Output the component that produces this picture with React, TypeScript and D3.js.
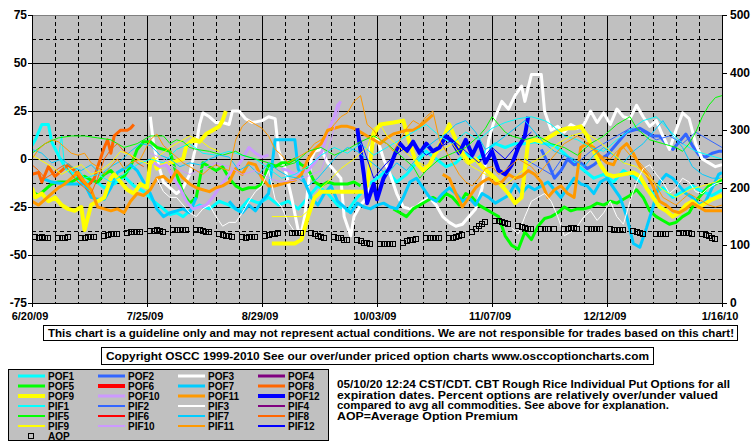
import React, { useEffect } from "react";
import * as d3 from "d3";

type Pt = [number, number] | null;

// ---------- axes / categories ----------
const START_DATE = new Date(2009, 5, 20);
const END_DATE = new Date(2010, 0, 16);
const X_TICK_DAYS = [0, 35, 70, 105, 140, 175, 210];
const LEFT_TICKS = [75, 50, 25, 0, -25, -50, -75];
const RIGHT_TICKS = [500, 400, 300, 200, 100, 0];

// ---------- series (day since 6/20/09, percent over/under) ----------
const POF1: Pt[] = [[0,7],[1,10],[2,14],[3,18],[5,18],[6,9],[8,2],[10,-4],[13,-9],[16,-13],[19,-11],[22,-15],[25,-13],[28,-9],[31,-14],[34,-17],[37,-22],[40,-26],[42,-29],[44,-28],[46,-30],[48,-27],[51,-24],[54,-26],[57,-22],[60,-24],[63,-27],[66,-21],[69,-23],[72,-20],[75,-24],[78,-22],[81,-26],[84,-20],[87,-14],[90,-18],[93,-24],[96,-27],[99,-20],[102,-14],[105,-10],[108,-6],[111,-12],[114,-8],[117,-2],[120,4],[123,0],[126,-4],[129,-2],[132,3],[135,-1],[138,4],[141,8],[144,6],[147,8],[150,8],[153,9],[156,8],[159,7],[162,3],[165,-2],[168,-6],[171,-10],[174,-8],[177,-12],[180,-6],[183,-9],[186,-13],[189,-18],[192,-15],[195,-20],[198,-17],[201,-14],[204,-17],[207,-19],[210,-16]];
const POF2: Pt[] = [[155,5],[157,-2],[159,-10],[161,-6],[163,0],[165,-3],[167,-2],[169,-5],[171,-3],[173,0],[175,2],[177,6],[179,10],[181,14],[183,15],[185,16],[187,14],[189,12],[191,12],[193,8],[195,5],[197,9],[199,13],[201,7],[203,2],[205,1],[207,3],[209,4],[210,4]];
const POF3: Pt[] = [[36,22],[37,8],[38,0],[40,-12],[42,-15],[44,-18],[46,-15],[48,-8],[50,8],[51,18],[52,24],[54,22],[56,19],[58,19],[60,18],[61,25],[63,25],[65,21],[67,19],[70,20],[72,22],[74,21],[75,5],[77,-5],[79,-20],[81,-37],[82,-38],[83,-30],[85,0],[86,4],[88,5],[90,-2],[92,-6],[94,-10],[95,-30],[97,-40],[98,-30],[100,-24],[102,-20],[103,6],[105,11],[107,0],[109,-8],[111,-18],[113,-25],[115,-26],[117,-25],[119,-22],[121,-20],[123,-24],[125,-30],[127,-33],[129,-35],[131,-34],[133,-30],[135,-26],[137,-15],[139,10],[141,22],[143,30],[145,26],[147,33],[149,38],[150,30],[152,44],[155,44],[156,25],[158,15],[160,17],[162,14],[164,18],[166,16],[168,18],[170,25],[172,19],[174,24],[176,18],[178,26],[180,22],[182,21],[184,28],[186,22],[188,17],[190,20],[192,12],[194,5],[196,15],[198,24],[200,21],[202,8],[204,0],[206,-2],[208,-4],[210,-3]];
const POF4: Pt[] = [];
const POF5: Pt[] = [[0,-17],[2,-19],[4,-16],[6,-13],[8,-12],[10,-12],[12,-12],[14,-10],[16,-9],[18,-11],[20,-12],[22,-8],[24,-6],[26,-10],[28,-9],[30,-4],[32,5],[34,9],[36,9],[38,6],[40,5],[42,4],[44,-8],[46,-18],[48,-23],[50,-20],[52,-2],[54,-4],[56,-6],[58,-4],[60,-10],[62,-14],[64,-16],[66,-15],[68,-15],[70,-13],[72,-3],[74,-4],[76,-2],[78,-2],[80,0],[82,-3],[84,-5],[86,-12],[88,-14],[90,-12],[92,-13],[94,-13],[96,-13],[98,-12],[100,-14],null,[110,-26],[112,-28],[114,-30],[116,-26],[118,-24],[120,-22],[122,-20],[124,-22],[126,-18],[128,-20],[130,-24],[132,-18],[134,-20],[136,-24],[138,-26],[140,-28],[142,-30],[144,-40],[146,-45],[148,-47],[150,-38],[152,-42],[154,-35],[156,-31],[158,-30],[160,-28],[162,-25],[164,-27],[166,-26],[168,-26],[170,-25],[172,-23],[174,-24],[176,-22],[178,-23],[180,-21],[182,-19],[184,-16],[186,-20],[188,-27],[190,-30],[192,-32],[194,-34],[196,-33],[198,-30],[200,-28],[202,-22],[204,-18],[206,-14],[208,-13],[210,-11]];
const POF6: Pt[] = [];
const POF7: Pt[] = [[3,-10],[6,-12],[10,-13],[13,-13],[16,-13],[18,-20],[20,-21],[22,-21],[24,-15],[26,-7],[28,-5],[30,-3],[32,-6],[34,-12],[36,-18],[38,-26],[40,-30],[42,-28],[44,-27],[46,-26],[48,-28],[50,-20],null,[60,-22],[62,-26],[64,-28],[66,-24],[68,-27],[70,-22],[72,-18],[74,10],[76,10],[78,10],[80,10],[81,-5],[83,-12],[85,-20],[87,-24],[89,-18],[91,-14],[93,-22],[95,-25],[97,-28],[99,-23],[101,-25],[103,-26],[105,-24],[107,-23],[109,-25],[111,-26],[113,-20],[115,-12],[117,-10],[119,-15],[121,-20],[123,-22],[125,-18],[127,-15],[129,-18],[131,-22],[133,-20],[135,-24],[137,-18],[139,-20],[141,-23],[143,-21],[145,-19],[147,-13],[149,-18],[151,-14],[153,-16],[155,-14],[157,-12],[159,-16],[161,-20],[163,-15],[165,-10],[167,-13],[169,-14],[171,-18],[173,-12],[175,-10],[177,-15],[179,-20],[181,-30],[183,-44],[185,-46],[187,-36],[189,-25],[191,-12],[193,-8],[195,-10],[197,-14],[199,-18],[201,-20],[203,-24],[205,-22],[207,-15],[209,-8],[210,-7]];
const POF8: Pt[] = [[0,-8],[2,-7],[3,-12],[5,-4],[7,-9],[9,-6],[11,-3],[13,-6],[15,-11],[17,-14],[19,-10],[20,-4],[22,6],[23,10],[24,3],[25,12],[27,15],[29,15],[30,16],[31,18]];
const POF9: Pt[] = [[0,-15],[1,-20],[3,-18],[5,-22],[7,-20],[9,-24],[11,-26],[13,-27],[15,-25],[16,-37],[18,-24],[20,-22],[22,-20],[24,-10],[25,-8],[27,-12],[29,-16],[31,-18],[33,-13],[35,-15],[36,-2],[37,0],[38,-5],[40,-3],[42,-2],[44,-1],[46,0],[47,7],[49,10],[51,9],[53,13],[55,15],[57,17],[58,20],[59,25],null,[73,-44],[80,-44],[82,-42],[84,-30],[86,-20],[88,-17],[95,-17],[101,-17],[102,-14],[104,13],[106,18],[110,19],[113,20],[115,8],[117,-2],[119,-6],[121,-3],[123,4],[125,10],[127,18],[129,10],[131,3],[133,-2],[135,0],[137,-4],[139,-7],[141,-10],[143,-14],[145,-18],[147,-23],[149,-20],[151,9],[153,10],[155,9],[157,11],[159,13],[161,15],[163,16],[165,16],[167,17],[169,12],[171,4],[173,-3],[175,-8],[177,-9],[180,-8],[183,-7],[185,-9],[187,-15],[189,-20],[191,-25],[193,-27],[195,-30],[197,-28],[199,-24],[201,-22],[203,-25],[205,-23],[207,-21],[210,-19]];
const POF10: Pt[] = [[37,-2],[39,-4],[41,-3],[43,-10],[45,-15],[47,-22],[49,-26],[51,-25],[53,-24],[55,-20],[57,-15],[60,-8],[62,-5],[64,0],[66,6],[68,3],[70,1],[72,2],null,[76,-5],[78,-6],[80,-8],[82,-7],[84,-6],[86,-2],[88,3],[89,8],[90,14],[92,22],[93,28],[94,30]];
const POF11: Pt[] = [[0,-22],[2,-24],[4,-21],[6,-18],[8,-15],[10,-13],[12,-10],[14,-7],[16,-12],[18,-16],[20,-25],[22,-26],[24,-27],[26,-26],[28,-28],[30,-22],[32,-18],[34,-19],[36,-16],[38,-10],[40,-9],[42,-12],[44,-6],[46,-10],[48,-13],[50,-15],[52,-16],[54,-17],[56,-15],[58,-14],[60,-12],[62,-5],[64,-8],[66,-2],[68,-3],[70,-10],[72,-14],[74,-14],[76,-13],[78,-12],[80,-11],[82,-8],[84,0],[86,5],[88,8],[90,15],[92,16],[94,17],[96,17],[98,16],[100,14],[102,12],[104,10],[106,8],[108,11],[110,13],[112,14],[114,15],[116,15],[118,17],[120,20],[122,23],null,[125,-8],[127,-10],[129,-18],[131,-25],[133,-20],[135,-15],[137,-12],[139,-10],[141,-13],[143,-12],[145,-8],[147,-10],[149,-9],[151,-6],[153,-8],[155,-12],[157,-20],[159,-16],[161,-14],[163,-18],[165,-20],[167,6],[169,8],[171,6],[173,1],[175,-2],[177,-3],[179,5],[181,8],[183,3],[185,-4],[187,-8],[189,-14],[191,-22],[193,-24],[195,-27],[197,-28],[199,-26],[201,-23],[203,-25],[205,-27],[207,-27],[210,-27]];
const POF12: Pt[] = [[99,16],[100,4],[101,-8],[102,-23],[104,-13],[105,-21],[107,-10],[109,-4],[111,5],[112,8],[114,4],[116,9],[118,3],[120,8],[122,4],[124,6],[126,12],[128,9],[130,3],[132,10],[134,2],[136,9],[138,-2],[140,4],[142,-6],[144,-8],[146,-3],[148,6],[150,12],[151,22]];
const PIF1: Pt[] = [[8,0],[9,12],[10,-5],[12,-8],[14,-5],[16,-10],[20,-8],[24,-12],[28,-8],[32,-3],[36,0],[40,-2],[44,5],[48,8],[52,3],[56,2],[60,4],[64,2],[68,0],[72,-5],[76,-10],[80,-8],[84,-4],[88,2],[92,6],[96,3],[100,8],[104,2],[108,6],[112,10],[116,14],[120,18],[124,12],[128,8],[132,14],[136,10],[140,16],[144,19],[148,21],[152,22],[156,20],[158,18],[162,12],[166,10],[170,6],[174,4],[178,10],[182,15],[186,20],[190,22],[194,15],[198,8],[202,4],[206,2],[210,0]];
const PIF2: Pt[] = [[150,0],[154,-4],[158,-8],[162,2],[166,-2],[170,4],[174,8],[178,12],[182,16],[186,14],[190,10],[194,12],[198,8],[202,14],[206,10],[210,6]];
const PIF3: Pt[] = [[38,-10],[40,-17],[42,-20],[44,-20],[46,-24],[48,-28],[50,-30],[52,-26],[54,-24],[56,-30],[58,-35],[60,-33],[62,-33],[64,-28],[66,-22],[68,-17],[70,-14],[72,-6],[74,-21],[76,-25],[78,-33],[80,-38],null,[146,-36],[148,-39],[150,-30],[152,-22],[154,-20],[156,-18],[158,-22],[160,-30],[162,-40],[164,-38],[166,-35],[168,-30],[170,-27],[172,-32],[174,-28],[176,-22],[178,-30],[180,-34],[182,-22],[184,-12],[186,-5],[188,-3],[190,-8],[192,-12],[194,-18],[196,-15],[198,-10],[200,-12],[202,-17],[204,-18],[206,-15],[208,-13],[210,-12]];
const PIF4: Pt[] = [];
const PIF5: Pt[] = [[0,3],[4,8],[8,11],[12,12],[16,12],[20,11],[24,10],[28,6],[32,8],[36,12],[40,12],[42,8],[44,10],[46,9],[48,6],[50,5],[54,4],[58,2],[60,3],[62,4],[64,2],[68,0],[72,-2],[76,-4],[80,-2],[84,4],[88,6],[92,2],[96,5],[100,9],[104,12],[108,8],[112,2],[116,-4],[118,-10],[120,-6],[124,0],[128,3],[132,6],[136,12],[138,16],[140,22],[142,18],[144,14],[146,12],[150,10],[154,12],[158,8],[162,6],[166,2],[170,8],[174,12],[178,18],[182,22],[184,16],[188,10],[192,8],[196,6],[198,4],[200,8],[202,14],[204,22],[206,28],[208,32],[210,33]];
const PIF6: Pt[] = [];
const PIF7: Pt[] = [[0,5],[3,3],[6,-2],[9,0],[12,-4],[15,-6],[18,-3],[21,-8],[24,-4],[27,-1],[30,4],[33,8],[36,7],[39,2],[42,0],[45,-4],[48,-2],[51,-3],[54,0],[57,2],[60,1],[63,-6],[66,-3],[69,-8],[72,-2],[75,-6],[78,-9],[81,-10],[84,-14],[87,-10],[90,-4],[93,2],[96,6],[99,4],[102,0],[105,-4],[108,-8],[111,-2],[114,-6],[117,0],[120,6],[123,10],[126,13],[129,18],[132,20],[135,14],[138,5],[141,8],[144,12],[147,16],[150,20],[153,14],[156,8],[159,4],[162,2],[165,0],[168,-4],[171,2],[174,6],[177,2],[180,-2],[183,4],[186,8],[189,14],[192,20],[195,12],[198,6],[201,-4],[204,-8],[207,-10],[210,-10]];
const PIF8: Pt[] = [[0,-3],[2,-6],[4,-10],[6,-8],[8,-5],[10,-3],[12,-8],[14,-12],[16,-15],[18,-18],[20,-10],[22,0],[24,5],[26,8],[28,4],[30,2],[32,-2],[34,-4]];
const PIF9: Pt[] = [[0,2],[3,-1],[6,-4],[9,-8],[12,-5],[15,-3],[18,-8],[21,-6],[24,-2],[27,4],[30,2],[33,-1],[36,-3],[39,2],[42,6],[45,9],[48,12],[51,10],[54,6],[57,4],null,[73,-30],[82,-30],[84,-27],[86,-20],[88,-15],[90,-12],[94,-5],[98,0],[102,6],[104,16],[106,18],[108,12],[112,6],[116,0],[120,-4],[124,4],[128,8],[132,-2],[136,-6],[140,-10],[144,-14],[148,-8],[152,-2],[156,2],[160,8],[164,12],[168,14],[172,10],[176,4],[180,-2],[184,-4],[188,-10],[192,-16],[196,-20],[200,-16],[204,-14],[208,-12],[210,-10]];
const PIF10: Pt[] = [[36,3],[40,0],[44,-5],[48,-8],[52,-5],[56,-2],[60,-4],[64,-8],[68,-6],[72,-10],[76,-12],[80,-11],[84,-9],[88,-6],[90,4],[92,16],[94,30]];
const PIF11: Pt[] = [[0,0],[2,5],[4,8],[6,10],[8,9],[10,6],[12,3],[14,2],[16,3],[18,-2],[20,-4],[22,-8],[24,-4],[26,0],[28,-5],[30,-2],[33,0],[36,10],[38,13],[40,7],[42,4],[44,1],[46,-2],[48,-4],[50,-6],[52,-8],[54,-5],[56,-3],[58,-5],[60,-6],[62,10],[64,17],[66,20],[68,18],[70,16],[72,12],[74,5],[76,2],[78,-2],[80,0],[82,2],[84,4],[86,8],[88,10],[90,14],[92,18],[94,22],[96,24],[98,30],[100,33],[102,18],[104,15],[106,10],[108,8],[110,4],[112,10],[114,16],[116,20],[118,18],[120,22],[122,25],[124,10],[126,4],[128,-2],[130,-8],[132,-12],[134,-14],[136,-10],[138,-5],[140,-4],[142,-8],[144,-6],[146,-3],[148,0],[150,-2],[152,-4],[154,-8],[156,-4],[158,0],[160,4],[162,8],[164,10],[166,12],[168,10],[170,6],[172,3],[174,1],[176,0],[178,4],[180,6],[182,2],[184,0],[186,-4],[188,-8],[190,-14],[192,-20],[194,-22],[196,-24],[198,-21],[200,-18],[202,-20],[204,-22],[206,-24],[208,-25],[210,-24]];
const PIF12: Pt[] = [[100,10],[104,-10],[108,-2],[112,4],[116,8],[120,2],[124,6],[128,10],[132,4],[136,-2],[140,6],[144,0],[148,8],[152,14]];

// AOP (right axis), one row per week, Mon..Fri (null = holiday)
const AOP_WEEKS: (number | null)[][] = [
  [114,113,114,113,112],[112,112,113,114,null],[113,113,114,114,115],[116,118,119,120,120],
  [122,123,124,124,124],[125,125,126,125,124],[126,126,127,127,126],[126,127,125,124,123],
  [119,118,117,116,115],[114,113,114,114,115],[116,118,119,120,121],[null,121,121,122,121],
  [121,119,117,115,113],[114,113,112,110,109],[109,107,105,104,103],[103,103,103,103,103],
  [105,107,109,110,111],[112,112,112,112,112],[112,113,114,116,118],[124,129,134,138,141],
  [143,142,140,139,137],[134,132,130,129,129],[129,129,129,null,129],[129,129,130,130,129],
  [128,128,128,128,128],[128,127,127,126,126],[125,124,122,120,null],[120,120,120,120,null],
  [122,122,121,121,120],[120,118,116,113,111]
];

const SERIES_NAMES = ["POF1","POF2","POF3","POF4","POF5","POF6","POF7","POF8","POF9","POF10","POF11","POF12",
  "PIF1","PIF2","PIF3","PIF4","PIF5","PIF6","PIF7","PIF8","PIF9","PIF10","PIF11","PIF12"];
const SERIES_DATA = [POF1,POF2,POF3,POF4,POF5,POF6,POF7,POF8,POF9,POF10,POF11,POF12,
  PIF1,PIF2,PIF3,PIF4,PIF5,PIF6,PIF7,PIF8,PIF9,PIF10,PIF11,PIF12];

const INFO_LINES = [
  "05/10/20 12:24 CST/CDT. CBT Rough Rice Individual Put Options for all",
  "expiration dates. Percent options are relatively over/under valued",
  "compared to avg all commodities. See above for explanation.",
  "AOP=Average Option Premium",
];
const NOTE_1 = "This chart is a guideline only and may not represent actual conditions. We are not responsible for trades based on this chart!";
const NOTE_2 = "Copyright OSCC 1999-2010 See our over/under priced option charts www.osccoptioncharts.com";

// ---------- styles ----------
const PALETTE = ["#00ffff","#3366ff","#ffffff","#800080","#00ff00","#ff0000","#00ccff","#ff6600","#ffff00","#cc99ff","#ff9900","#0000ff"];
const FONT = "'Liberation Sans', Arial, sans-serif";
const INFO_WIDTHS = [393, 381, 332, 181];

export default function App() {
  useEffect(() => { document.body.style.margin = "0"; }, []);
  const W = 755, H = 446;
  const L = 32, R = 722, T = 15, B = 303;
  const day = (d: number) => d3.timeDay.offset(START_DATE, d);
  const x = d3.scaleTime().domain([START_DATE, END_DATE]).range([L, R]);
  const yL = d3.scaleLinear().domain([-75, 75]).range([B, T]);
  const yR = d3.scaleLinear().domain([0, 500]).range([B, T]);
  const px = (v: number) => Math.round(v) + 0.5;
  const fmt = d3.timeFormat("%-m/%d/%y");

  const line = d3.line<Pt>()
    .defined((d) => d !== null)
    .x((d) => x(day((d as [number, number])[0])))
    .y((d) => yL((d as [number, number])[1]));

  const colorOf = (i: number) => PALETTE[i % 12];
  const plotWidth = (i: number) => (i < 12 ? (i === 8 || i === 11 ? 4 : 3) : 1);
  const legendWidth = (i: number) => (i < 12 ? (i === 5 || i === 8 || i === 11 ? 4 : 3) : 2);

  const hGrid = d3.range(-62.5, 75, 12.5);
  const vGrid = d3.range(7, 210, 7);

  const aopPts: { d: number; v: number }[] = [];
  AOP_WEEKS.forEach((wk, w) => wk.forEach((v, k) => { if (v !== null) aopPts.push({ d: 1 + 7 * w + k, v }); }));

  return (
    <svg width={W} height={H} style={{ position: "absolute", left: 0, top: 0, background: "#fff" }} fontFamily={FONT}>
      <defs>
        <clipPath id="plot"><rect x={L} y={T} width={R - L} height={B - T} /></clipPath>
      </defs>
      <rect x={L} y={T} width={R - L} height={B - T} fill="#c0c0c0" />
      {hGrid.map((v) => (
        <line key={"h" + v} x1={L} x2={R} y1={px(yL(v))} y2={px(yL(v))} stroke="#000" strokeWidth={1}
          strokeDasharray={v % 25 === 0 ? undefined : "4,3"} />
      ))}
      {vGrid.map((d) => (
        <line key={"v" + d} x1={px(x(day(d)))} x2={px(x(day(d)))} y1={T} y2={B} stroke="#000" strokeWidth={1}
          strokeDasharray={d % 35 === 0 ? undefined : "4,3"} />
      ))}
      <g clipPath="url(#plot)">
        {SERIES_DATA.map((data, i) => data.length ? (
          <path key={SERIES_NAMES[i]} d={line(data) || ""} fill="none" stroke={colorOf(i)}
            strokeWidth={plotWidth(i)} strokeLinejoin="round" />
        ) : null)}
        {aopPts.map((p, i) => (
          <rect key={"a" + i} x={Math.round(x(day(p.d))) - 2.5} y={Math.round(yR(p.v)) - 2.5} width={5} height={5}
            fill="none" stroke="#000" strokeWidth={1} />
        ))}
      </g>
      <line x1={L} x2={R} y1={T + 0.5} y2={T + 0.5} stroke="#808080" />
      <line x1={L + 0.5} x2={L + 0.5} y1={T} y2={B + 1} stroke="#000" />
      <line x1={R + 0.5} x2={R + 0.5} y1={T} y2={B + 1} stroke="#000" />
      <line x1={L} x2={R + 1} y1={B + 0.5} y2={B + 0.5} stroke="#000" />
      {LEFT_TICKS.map((v) => (
        <g key={"l" + v}>
          <line x1={L - 4} x2={L} y1={px(yL(v))} y2={px(yL(v))} stroke="#000" />
          <text x={27} y={yL(v) + 4} textAnchor="end" fontSize={12} fontWeight="bold">{v}</text>
        </g>
      ))}
      {RIGHT_TICKS.map((v) => (
        <g key={"r" + v}>
          <line x1={R} x2={R + 5} y1={px(yR(v))} y2={px(yR(v))} stroke="#000" />
          <text x={730} y={yR(v) + 4} textAnchor="start" fontSize={12} fontWeight="bold">{v}</text>
        </g>
      ))}
      {X_TICK_DAYS.map((d) => (
        <g key={"x" + d}>
          <line x1={px(x(day(d)))} x2={px(x(day(d)))} y1={B} y2={B + 4} stroke="#000" />
          <text x={x(day(d)) - 2} y={320} textAnchor="middle" fontSize={11} fontWeight="bold">{fmt(day(d))}</text>
        </g>
      ))}
      <rect x={43.5} y={325.5} width={694} height={15} fill="#fff" stroke="#000" />
      <text x={48} y={337} fontSize={11} fontWeight="bold" textLength={686} lengthAdjust="spacingAndGlyphs">{NOTE_1}</text>
      <rect x={101.5} y={347.5} width={552} height={17} fill="#fff" stroke="#000" />
      <text x={106} y={360} fontSize={11} fontWeight="bold" textLength={543} lengthAdjust="spacingAndGlyphs">{NOTE_2}</text>
      <rect x={8.5} y={369.5} width={320} height={71} fill="#c0c0c0" stroke="#000" />
      {SERIES_NAMES.map((name, i) => {
        const row = Math.floor(i / 4);
        const col = i % 4;
        const cy = 376 + row * 10;
        const cx = 18 + col * 80;
        return (
          <g key={"lg" + name}>
            <line x1={cx} x2={cx + 27} y1={cy} y2={cy} stroke={colorOf(i)} strokeWidth={legendWidth(i)} />
            <text x={cx + 30} y={cy + 4} fontSize={10} fontWeight="bold">{name}</text>
          </g>
        );
      })}
      <rect x={28.5} y={433.5} width={5} height={5} fill="none" stroke="#000" />
      <text x={48} y={440} fontSize={10} fontWeight="bold">AOP</text>
      {INFO_LINES.map((t, i) => (
        <text key={"i" + i} x={337} y={388 + i * 10.5} fontSize={10} fontWeight="bold"
          textLength={INFO_WIDTHS[i]} lengthAdjust="spacingAndGlyphs">{t}</text>
      ))}
    </svg>
  );
}
